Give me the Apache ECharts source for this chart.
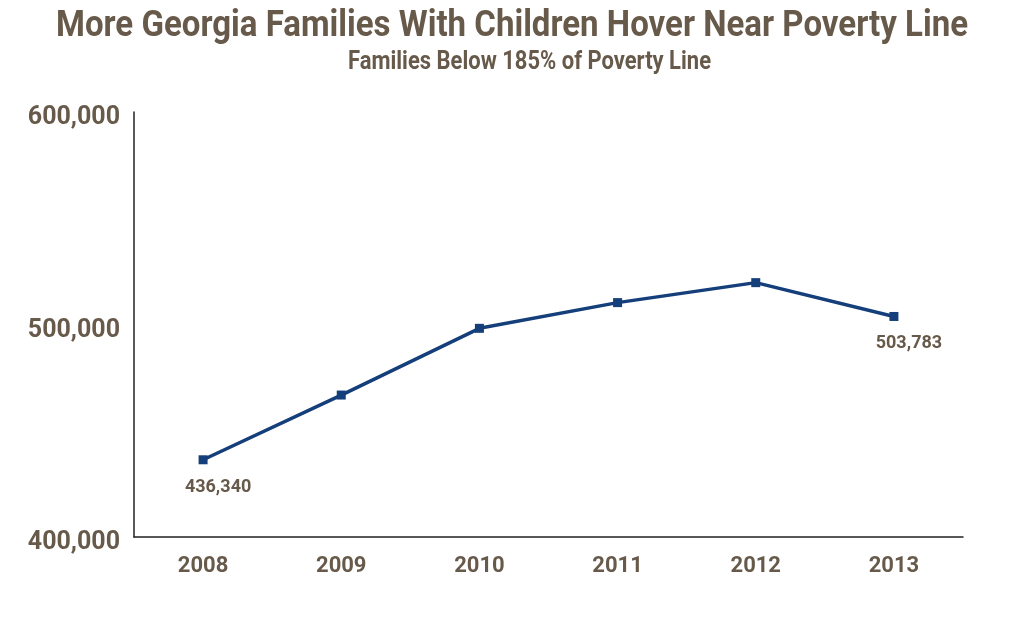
<!DOCTYPE html>
<html>
<head>
<meta charset="utf-8">
<script src="https://cdn.jsdelivr.net/npm/echarts@6/dist/echarts.min.js"></script>
<style>html,body{margin:0;padding:0;background:#fff}#c{width:1024px;height:635px}</style>
</head>
<body>
<div id="c"></div>
<script>
const years = ['2008', '2009', '2010', '2011', '2012', '2013'];
const families = [436340, 466800, 498200, 510300, 519700, 503783];
const labelledYears = ['2008', '2013'];
const yTicks = { min: 400000, max: 600000, interval: 100000 };
const titleText = 'More Georgia Families With Children Hover Near Poverty Line';
const subtitleText = 'Families Below 185% of Poverty Line';

const brown = '#675a4a';
const navy = '#143f7a';
const fmt = v => v.toLocaleString('en-US');

// condensed look: scale Roboto Bold horizontally to the reference widths
function condensedText(text, fontSize, targetWidth, cx, cy) {
  const font = 'bold ' + fontSize + 'px Roboto';
  const ctx = document.createElement('canvas').getContext('2d');
  ctx.font = font;
  const w = ctx.measureText(text).width;
  return {
    type: 'text', x: cx, y: cy, scaleX: targetWidth / w, silent: true,
    style: { text: text, font: font, fill: brown, textAlign: 'center', textVerticalAlign: 'middle' }
  };
}

const chart = echarts.init(document.getElementById('c'), null, { renderer: 'canvas' });
chart.setOption({
  backgroundColor: '#fff',
  animation: false,
  graphic: [
    condensedText(titleText, 37, 912, 512, 27),
    condensedText(subtitleText, 25, 363, 529.5, 62.5)
  ],
  grid: { left: 134, right: 61, top: 112, bottom: 98, containLabel: false },
  xAxis: {
    type: 'category', data: years, boundaryGap: true,
    axisLine: { lineStyle: { color: '#222', width: 1.5 } },
    axisTick: { show: false },
    axisLabel: { margin: 18, color: brown, fontFamily: 'Roboto, sans-serif', fontWeight: 'bold', fontSize: 22 }
  },
  yAxis: {
    type: 'value', min: yTicks.min, max: yTicks.max, interval: yTicks.interval,
    splitLine: { show: false },
    axisLine: { show: true, lineStyle: { color: '#222', width: 1.5 } },
    axisTick: { show: false },
    axisLabel: { margin: 14, color: brown, fontFamily: 'Roboto, sans-serif', fontWeight: 'bold', fontSize: 25,
      verticalAlign: 'top', lineHeight: 12, formatter: v => fmt(v) }
  },
  series: [{
    type: 'line', data: families,
    symbol: 'rect', symbolSize: 9,
    lineStyle: { color: navy, width: 3.5 },
    itemStyle: { color: navy },
    label: {
      show: true, position: 'bottom', distance: 14, offset: [15, 0],
      color: brown, fontFamily: 'Roboto, sans-serif', fontWeight: 'bold', fontSize: 18,
      formatter: p => labelledYears.includes(p.name) ? fmt(p.value) : ''
    }
  }]
});
</script>
</body>
</html>
